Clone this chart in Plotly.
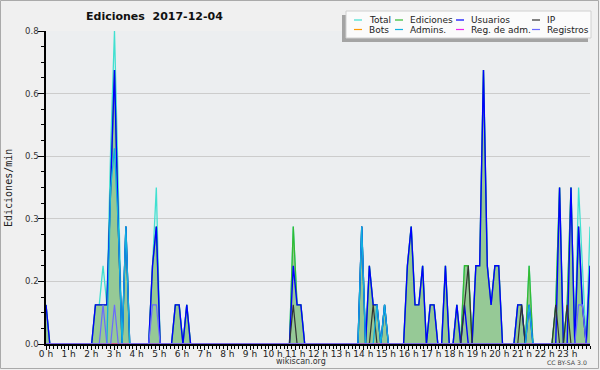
import plotly.graph_objects as go

# ---------------- data (10-minute bins, edits per minute) ----------------
hours = list(range(24))
hour_labels = [f"{h} h" for h in hours]
bins = list(range(144))

y_tick_vals = [0, 0.16, 0.32, 0.48, 0.64, 0.8]
y_tick_text = ["0.0", "0.2", "0.3", "0.5", "0.6", "0.8"]

series_names = ["Total", "Ediciones", "Usuarios", "IP",
                "Bots", "Admins.", "Reg. de adm.", "Registros"]
series_colors = ["#40e0d0", "#33bb33", "#0000ff", "#333333",
                 "#ff9900", "#10b0e0", "#ee22ee", "#6a6aff"]

total = [
    .1, 0, 0, 0, 0, 0,   0, 0, 0, 0, 0, 0,
    0, .1, .1, .2, .1, .5,   .8, .4, 0, .3, 0, 0,
    0, 0, 0, 0, .2, .4,   0, 0, 0, 0, .1, .1,
    0, .1, 0, 0, 0, 0,   0, 0, 0, 0, 0, 0,
    0, 0, 0, 0, 0, 0,   0, 0, 0, 0, 0, 0,
    0, 0, 0, 0, 0, .3,   .1, .1, 0, 0, 0, 0,
    0, 0, 0, 0, 0, 0,   0, 0, 0, 0, 0, .3,
    0, .2, .1, .1, 0, .1,   0, 0, 0, 0, 0, .2,
    .3, .1, .1, .2, 0, .1,   .1, 0, 0, .2, 0, 0,
    .1, 0, .2, .2, 0, .2,   .2, .7, .2, .1, .2, .2,
    0, 0, 0, 0, .1, .1,   0, .2, 0, 0, 0, 0,
    0, 0, .1, .4, 0, .1,   .4, 0, .4, .2, 0, .3,
]
ediciones = [
    .1, 0, 0, 0, 0, 0,   0, 0, 0, 0, 0, 0,
    0, .1, .1, .1, .1, .4,   .7, .3, 0, .3, 0, 0,
    0, 0, 0, 0, .2, .3,   0, 0, 0, 0, .1, .1,
    0, .1, 0, 0, 0, 0,   0, 0, 0, 0, 0, 0,
    0, 0, 0, 0, 0, 0,   0, 0, 0, 0, 0, 0,
    0, 0, 0, 0, 0, .3,   .1, .1, 0, 0, 0, 0,
    0, 0, 0, 0, 0, 0,   0, 0, 0, 0, 0, .3,
    0, .2, .1, .1, 0, .1,   0, 0, 0, 0, 0, .2,
    .3, .1, .1, .2, 0, .1,   .1, 0, 0, .2, 0, 0,
    .1, 0, .2, .2, 0, .2,   .2, .7, .2, .1, .2, .2,
    0, 0, 0, 0, .1, .1,   0, .2, 0, 0, 0, 0,
    0, 0, .1, .4, 0, .1,   .4, 0, .3, .1, 0, .2,
]
usuarios = [
    .1, 0, 0, 0, 0, 0,   0, 0, 0, 0, 0, 0,
    0, .1, .1, .1, .1, .4,   .7, .3, 0, .3, 0, 0,
    0, 0, 0, 0, .2, .3,   0, 0, 0, 0, .1, .1,
    0, .1, 0, 0, 0, 0,   0, 0, 0, 0, 0, 0,
    0, 0, 0, 0, 0, 0,   0, 0, 0, 0, 0, 0,
    0, 0, 0, 0, 0, .2,   .1, .1, 0, 0, 0, 0,
    0, 0, 0, 0, 0, 0,   0, 0, 0, 0, 0, .3,
    0, .2, .1, .1, 0, .1,   0, 0, 0, 0, 0, .2,
    .3, .1, .1, .2, 0, .1,   .1, 0, 0, .2, 0, 0,
    .1, 0, .1, 0, 0, .2,   .2, .7, .2, .1, .2, .2,
    0, 0, 0, 0, .1, .1,   0, .1, 0, 0, 0, 0,
    0, 0, 0, .4, 0, 0,   .4, 0, .3, .1, 0, .2,
]
ip = [
    0, 0, 0, 0, 0, 0,   0, 0, 0, 0, 0, 0,
    0, 0, 0, 0, 0, 0,   0, 0, 0, 0, 0, 0,
    0, 0, 0, 0, 0, 0,   0, 0, 0, 0, 0, 0,
    0, 0, 0, 0, 0, 0,   0, 0, 0, 0, 0, 0,
    0, 0, 0, 0, 0, 0,   0, 0, 0, 0, 0, 0,
    0, 0, 0, 0, 0, .1,   0, 0, 0, 0, 0, 0,
    0, 0, 0, 0, 0, 0,   0, 0, 0, 0, 0, 0,
    0, 0, .1, 0, 0, 0,   0, 0, 0, 0, 0, 0,
    0, 0, 0, 0, 0, 0,   0, 0, 0, 0, 0, 0,
    0, 0, .1, .2, 0, 0,   0, 0, 0, 0, 0, 0,
    0, 0, 0, 0, 0, .1,   0, 0, 0, 0, 0, 0,
    0, 0, .1, 0, 0, .1,   0, 0, 0, 0, 0, 0,
]
bots = [0] * 144
admins = [
    0, 0, 0, 0, 0, 0,   0, 0, 0, 0, 0, 0,
    0, 0, 0, 0, 0, .4,   .5, .3, 0, .3, 0, 0,
    0, 0, 0, 0, 0, 0,   0, 0, 0, 0, 0, 0,
    0, 0, 0, 0, 0, 0,   0, 0, 0, 0, 0, 0,
    0, 0, 0, 0, 0, 0,   0, 0, 0, 0, 0, 0,
    0, 0, 0, 0, 0, 0,   0, 0, 0, 0, 0, 0,
    0, 0, 0, 0, 0, 0,   0, 0, 0, 0, 0, .3,
    0, 0, 0, .1, 0, .1,   0, 0, 0, 0, 0, 0,
    0, 0, 0, 0, 0, 0,   0, 0, 0, 0, 0, 0,
    0, 0, 0, 0, 0, 0,   0, 0, 0, 0, 0, 0,
    0, 0, 0, 0, 0, 0,   0, .1, 0, 0, 0, 0,
    0, 0, 0, 0, 0, 0,   0, 0, 0, 0, 0, 0,
]
reg_adm = [0] * 144
registros = [
    0, 0, 0, 0, 0, 0,   0, 0, 0, 0, 0, 0,
    0, 0, 0, .1, 0, 0,   .1, 0, 0, 0, 0, 0,
    0, 0, 0, 0, .1, .1,   0, 0, 0, 0, 0, 0,
    0, 0, 0, 0, 0, 0,   0, 0, 0, 0, 0, 0,
    0, 0, 0, 0, 0, 0,   0, 0, 0, 0, 0, 0,
    0, 0, 0, 0, 0, 0,   0, 0, 0, 0, 0, 0,
    0, 0, 0, 0, 0, 0,   0, 0, 0, 0, 0, 0,
    0, 0, 0, 0, 0, 0,   0, 0, 0, 0, 0, 0,
    0, 0, 0, 0, 0, 0,   0, 0, 0, 0, 0, 0,
    0, 0, 0, 0, 0, 0,   0, 0, 0, 0, 0, 0,
    0, 0, 0, 0, 0, 0,   0, 0, 0, 0, 0, 0,
    0, 0, 0, 0, 0, 0,   0, 0, .1, .1, 0, 0,
]

series_values = [total, ediciones, usuarios, ip, bots, admins, reg_adm, registros]

# ---------------- layout geometry (pixels) ----------------
W, H = 600, 370
PL, PR, PT, PB = 46, 590, 31, 344
PW, PH = PR - PL, PB - PT


def px(x):
    return (x - PL) / PW


def py(y):
    return (PB - y) / PH


fig = go.Figure()

line_widths = [1.3, 1.3, 1.4, 1.2, 1.2, 1.3, 1.2, 1.2]
for name, vals, color, lw in zip(series_names, series_values, series_colors, line_widths):
    kw = {}
    if name == "Ediciones":
        kw = dict(fill="tozeroy", fillcolor="#96c996")
    fig.add_trace(go.Scatter(
        x=bins, y=vals, name=name, mode="lines",
        line=dict(color=color, width=lw), showlegend=False,
        hoverinfo="skip", **kw))

fig.update_layout(
    width=W, height=H,
    margin=dict(l=PL, r=W - PR, t=PT, b=H - PB, pad=0),
    paper_bgcolor="#f0f0f0",
    plot_bgcolor="#eceef0",
    template="none",
    showlegend=False,
    font=dict(family="DejaVu Sans", size=9, color="#222"),
)

fig.update_xaxes(
    range=[0, 143],
    tickmode="array",
    tickvals=[h * 143 / 24 for h in hours],
    ticktext=hour_labels,
    ticks="outside", ticklen=4, tickcolor="black", tickwidth=1,
    ticklabelstandoff=-4,
    tickfont=dict(family="DejaVu Sans", size=9, color="#222"),
    minor=dict(ticks="outside", ticklen=3, tickcolor="black",
               tickmode="linear", tick0=0, dtick=143 / 144, showgrid=False),
    showline=True, linecolor="black", linewidth=1.5,
    showgrid=False, zeroline=False, fixedrange=True,
)

fig.update_yaxes(
    range=[0, 0.8],
    tickmode="array",
    tickvals=y_tick_vals,
    ticktext=y_tick_text,
    ticks="outside", ticklen=6, tickcolor="black", tickwidth=1,
    ticklabelstandoff=-2,
    tickfont=dict(family="DejaVu Sans", size=8.5, color="#333"),
    minor=dict(ticks="outside", ticklen=3, tickcolor="black",
               tickmode="linear", tick0=0, dtick=0.04, showgrid=False),
    showline=True, linecolor="black", linewidth=1.5,
    showgrid=True, gridcolor="#cccccc", gridwidth=1,
    zeroline=False, fixedrange=True,
)

shapes = []
annotations = []

# outer frame
shapes.append(dict(type="rect", xref="paper", yref="paper",
                   x0=px(0.5), x1=px(598.5), y0=py(0.5), y1=py(368.5),
                   line=dict(color="#aaaaaa", width=1), fillcolor="rgba(0,0,0,0)",
                   layer="below"))

# legend box with shadow
shapes.append(dict(type="rect", xref="paper", yref="paper",
                   x0=px(342), x1=px(588), y0=py(15), y1=py(42),
                   line=dict(width=0), fillcolor="#a4a4a4", layer="above"))
shapes.append(dict(type="rect", xref="paper", yref="paper",
                   x0=px(346), x1=px(591), y0=py(11), y1=py(38),
                   line=dict(color="#d0d0d0", width=1), fillcolor="#fbfbfb",
                   layer="above"))

legend_text_x = [367, 408, 469, 545]
legend_row_y = [20, 29.5]
for k, (name, color) in enumerate(zip(series_names, series_colors)):
    col, row = k % 4, k // 4
    tx, ty = legend_text_x[col], legend_row_y[row]
    shapes.append(dict(type="line", xref="paper", yref="paper",
                       x0=px(tx - 13), x1=px(tx - 5), y0=py(ty), y1=py(ty),
                       line=dict(color=color, width=1.2), layer="above"))
    annotations.append(dict(xref="paper", yref="paper", x=px(tx), y=py(ty),
                            text=name, showarrow=False, xanchor="left",
                            yanchor="middle",
                            font=dict(family="DejaVu Sans", size=9, color="#222")))

# title
annotations.append(dict(xref="paper", yref="paper", x=px(154), y=py(16.5),
                        text="<b>Ediciones\u00a0 2017-12-04</b>", showarrow=False,
                        xanchor="center", yanchor="middle",
                        font=dict(family="DejaVu Sans", size=11, color="#111")))
# y axis title
annotations.append(dict(xref="paper", yref="paper", x=px(8), y=py(188),
                        text="Ediciones/min", showarrow=False, textangle=-90,
                        xanchor="center", yanchor="middle",
                        font=dict(family="DejaVu Sans Mono", size=10, color="#222")))
# footer
annotations.append(dict(xref="paper", yref="paper", x=px(300.5), y=py(361),
                        text="wikiscan.org", showarrow=False,
                        xanchor="center", yanchor="middle",
                        font=dict(family="DejaVu Sans", size=8, color="#333")))
annotations.append(dict(xref="paper", yref="paper", x=px(589), y=py(362),
                        text="CC BY-SA 3.0", showarrow=False,
                        xanchor="right", yanchor="middle",
                        font=dict(family="DejaVu Sans", size=6.2, color="#444")))

fig.update_layout(shapes=shapes, annotations=annotations)

fig.write_html(
    "out.html",
    config={"displayModeBar": False},
    post_script="document.body.style.margin='0';document.body.style.overflow='hidden';",
)
